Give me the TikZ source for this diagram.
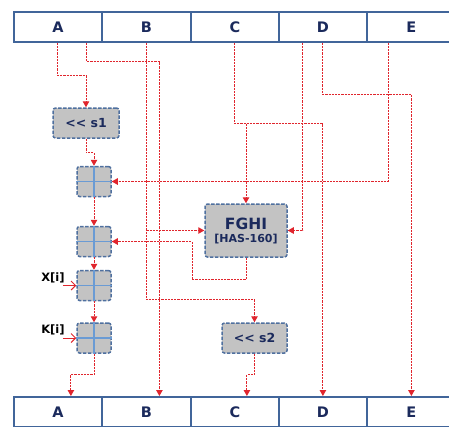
\documentclass[tikz,border=0pt]{standalone}
\usepackage{fontspec}
\setmainfont{DejaVu Sans}
\usetikzlibrary{arrows.meta,calc}
\definecolor{navy}{HTML}{1B2A5C}
\definecolor{barblue}{HTML}{41659A}
\definecolor{boxgray}{HTML}{C3C3C3}
\definecolor{boxedge}{HTML}{4F709F}
\definecolor{crossblue}{HTML}{6A9BD4}
\definecolor{wirered}{HTML}{E0252D}
\begin{document}
\begin{tikzpicture}[x=1pt,y=-1pt,
  cell/.style={draw=barblue,line width=1.8pt,minimum width=88pt,minimum height=30pt,inner sep=0pt,anchor=north west,text=navy,font=\fontsize{14.5}{14.5}\selectfont\bfseries},
  opbox/.style={draw=boxedge,dash pattern=on 3.5pt off 1.5pt,line width=1.5pt,fill=boxgray,rounded corners=2.5pt,inner sep=0pt,text=navy,font=\bfseries},
  adder/.style={opbox,minimum width=34pt,minimum height=30pt},
  crossline/.style={draw=crossblue,line width=1.4pt},
  wire/.style={draw=wirered,line width=1pt,dash pattern=on 2.2pt off 1pt},
  arr/.style={wire,-{Triangle[width=6.5pt,length=6pt]}},
  openarr/.style={draw=wirered,line width=1pt,-{Straight Barb[length=4.5pt,width=9pt]}},
  lbl/.style={inner sep=0pt,font=\fontsize{11.5}{11.5}\selectfont\bfseries,text=black}]
\useasboundingbox (0,0) rectangle (449,426);
\clip (0,0) rectangle (449,426);
% top bar
\node[cell] (tA) at (13,11) {A};
\node[cell,minimum width=89pt] (tB) at (101,11) {B};
\node[cell] (tC) at (190,11) {C};
\node[cell] (tD) at (278,11) {D};
\node[cell,minimum width=89pt] (tE) at (366,11) {E};
% bottom bar
\node[cell] (bA) at (13,396) {A};
\node[cell,minimum width=89pt] (bB) at (101,396) {B};
\node[cell] (bC) at (190,396) {C};
\node[cell] (bD) at (278,396) {D};
\node[cell,minimum width=89pt] (bE) at (366,396) {E};
% boxes
\node[opbox,minimum width=66pt,minimum height=30pt,font=\fontsize{12.5}{13}\selectfont\bfseries] (s1) at (86,123) {<{}< s1};
\node[opbox,minimum width=65pt,minimum height=30pt,font=\fontsize{12.5}{13}\selectfont\bfseries] (s2) at (254.5,338) {<{}< s2};
\node[opbox,minimum width=82pt,minimum height=53pt,align=center] (fghi) at (246,230.5) {{\fontsize{15.5}{16}\selectfont FGHI}\\[1pt]{\fontsize{11}{12}\selectfont [HAS-160]}};
\foreach \n/\y in {a1/181.5,a2/241.5,a3/285.5,a4/338}{
  \node[adder] (\n) at (94,\y) {};
  \draw[crossline] (\n.north) -- (\n.south);
  \draw[crossline] (\n.west) -- (\n.east);
}
% labels
\node[lbl] (X) at (53,278) {X[i]};
\node[lbl] (K) at (53,330) {K[i]};
% wires
\draw[arr] (tA.south) -- ++(0,33) -| (s1.north);
\draw[arr] ([xshift=29pt]tA.south) -- ++(0,19) -| ([xshift=13pt]bB.north);
\draw[arr] (tB.south) -- ++(0,257) -| (s2.north);
\draw[arr] (tB.south |- fghi.west) -- (fghi.west);
\draw[arr] (tC.south) -- ++(0,81) coordinate (cturn) -| (bD.north);
\draw[arr] (cturn -| fghi.north) -- (fghi.north);
\draw[arr] ([xshift=-20pt]tD.south) |- (fghi.east);
\draw[arr] (tD.south) -- ++(0,52) -| (bE.north);
\draw[arr] ([xshift=-23pt]tE.south) |- (a1.east);
\draw[arr] (fghi.south) -- ++(0,22) -- ++(-54,0) |- (a2.east);
\draw[arr] (s1.south) -- ++(0,14) -| (a1.north);
\draw[arr] (a1.south) -- (a2.north);
\draw[arr] (a2.south) -- (a3.north);
\draw[arr] (a3.south) -- (a4.north);
\draw[arr] (a4.south) -- ++(0,21) -| ([xshift=13pt]bA.north);
\draw[arr] (s2.south) -- ++(0,21) -| ([xshift=12pt]bC.north);
\draw[openarr] ([xshift=-2pt]X.east |- a3.west) -- (a3.west);
\draw[openarr] ([xshift=-2pt]K.east |- a4.west) -- (a4.west);
\end{tikzpicture}
\end{document}
